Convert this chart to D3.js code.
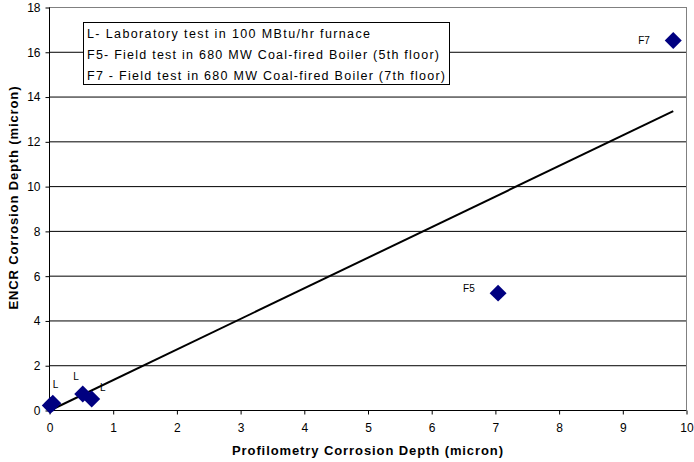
<!DOCTYPE html>
<html><head><meta charset="utf-8">
<script src="https://cdn.jsdelivr.net/npm/d3@7"></script>
<style>body{margin:0;background:#fff;} svg{display:block;font-family:"Liberation Sans",Arial,sans-serif;}</style>
</head><body>
<svg id="c" width="694" height="462"></svg>
<script>
const pointX = [0.02, 0.06, 0.53, 0.67, 7.05, 9.8];
const pointY = [0.2, 0.3, 0.71, 0.49, 5.22, 16.5];
const labelText = ["L", "L", "L", "F5", "F7"];
const labelX = [0.06, 0.38, 0.80, 6.5, 9.25];
const labelY = [0.98, 1.34, 0.85, 5.27, 16.34];
const trendX = [0.03, 9.8];
const trendY = [0.0, 13.35];
const xTicks = [0,1,2,3,4,5,6,7,8,9,10];
const yTicks = [0,2,4,6,8,10,12,14,16,18];
const legendLines = [
  "L- Laboratory test in 100 MBtu/hr furnace",
  "F5- Field test in 680 MW Coal-fired Boiler (5th floor)",
  "F7 - Field test in 680 MW Coal-fired Boiler (7th floor)"
];

const svg = d3.select("#c");
const L = 49, R = 686, T = 7, B = 410;
const x = d3.scaleLinear().domain([0,10]).range([L,R]);
const y = d3.scaleLinear().domain([0,18]).range([B,T]);

// gridlines
svg.append("g").selectAll("line").data(yTicks.filter(d=>d>0 && d<18)).join("line")
  .attr("x1",L).attr("x2",R).attr("y1",d=>y(d)+0.5).attr("y2",d=>y(d)+0.5)
  .attr("stroke","#000").attr("stroke-width",1);
// plot border top/right gray
svg.append("line").attr("x1",L).attr("x2",R+0.5).attr("y1",T+0.5).attr("y2",T+0.5).attr("stroke","#808080");
svg.append("line").attr("x1",R+0.5).attr("x2",R+0.5).attr("y1",T).attr("y2",B).attr("stroke","#808080");

// axes
const xAxis = d3.axisBottom(x).tickValues(xTicks).tickSize(4).tickPadding(9).tickFormat(d3.format("d"));
const gx = svg.append("g").attr("transform",`translate(0.5,${B+0.5})`).call(xAxis);
gx.select(".domain").attr("d",`M${L},0H${R}`).attr("stroke","#000");
gx.selectAll("text").attr("font-size",12).attr("fill","#000").attr("font-family","Liberation Sans, Arial, sans-serif");
gx.selectAll(".tick line").attr("stroke","#000");
const yAxis = d3.axisLeft(y).tickValues(yTicks).tickSize(4).tickPadding(5).tickFormat(d3.format("d"));
const gy = svg.append("g").attr("transform",`translate(${L+0.5},0.5)`).call(yAxis);
gy.select(".domain").attr("d",`M0,${T}V${B}`).attr("stroke","#000");
gy.selectAll("text").attr("font-size",12).attr("fill","#000").attr("font-family","Liberation Sans, Arial, sans-serif");
gy.selectAll(".tick line").attr("stroke","#000");

// axis titles
svg.append("text").attr("x",(L+R)/2).attr("y",455).attr("text-anchor","middle")
  .attr("font-weight","bold").attr("font-size",13)
  .attr("textLength",271).attr("lengthAdjust","spacing")
  .text("Profilometry Corrosion Depth (micron)");
svg.append("text").attr("transform",`translate(18,198) rotate(-90)`).attr("text-anchor","middle")
  .attr("font-weight","bold").attr("font-size",13)
  .attr("textLength",223).attr("lengthAdjust","spacing")
  .text("ENCR Corrosion Depth (micron)");

// legend box
const legendW = [283, 352, 358];
const lg = svg.append("g");
lg.append("rect").attr("x",83.5).attr("y",22.5).attr("width",366).attr("height",62)
  .attr("fill","#fff").attr("stroke","#000").attr("stroke-width",1);
lg.selectAll("text").data(legendLines).join("text")
  .attr("x",87).attr("y",(d,i)=>37.5+i*21.3).attr("font-size",12.5).attr("fill","#000")
  .attr("textLength",(d,i)=>legendW[i]).attr("lengthAdjust","spacing").text(d=>d);

// trend line
svg.append("line").attr("x1",x(trendX[0])).attr("y1",y(trendY[0])).attr("x2",x(trendX[1])).attr("y2",y(trendY[1]))
  .attr("stroke","#000").attr("stroke-width",2);

// markers
const sym = d3.symbol().type(d3.symbolSquare).size(144);
svg.append("g").selectAll("path").data(pointX.map((v,i)=>[v,pointY[i]])).join("path")
  .attr("d",sym).attr("fill","#000080")
  .attr("transform",d=>`translate(${x(d[0])},${y(d[1])}) rotate(45)`);

// point labels
svg.append("g").selectAll("text").data(labelText).join("text")
  .attr("x",(d,i)=>x(labelX[i])).attr("y",(d,i)=>y(labelY[i]))
  .attr("font-size",10).attr("fill","#000").text(d=>d);
</script>
</body></html>
